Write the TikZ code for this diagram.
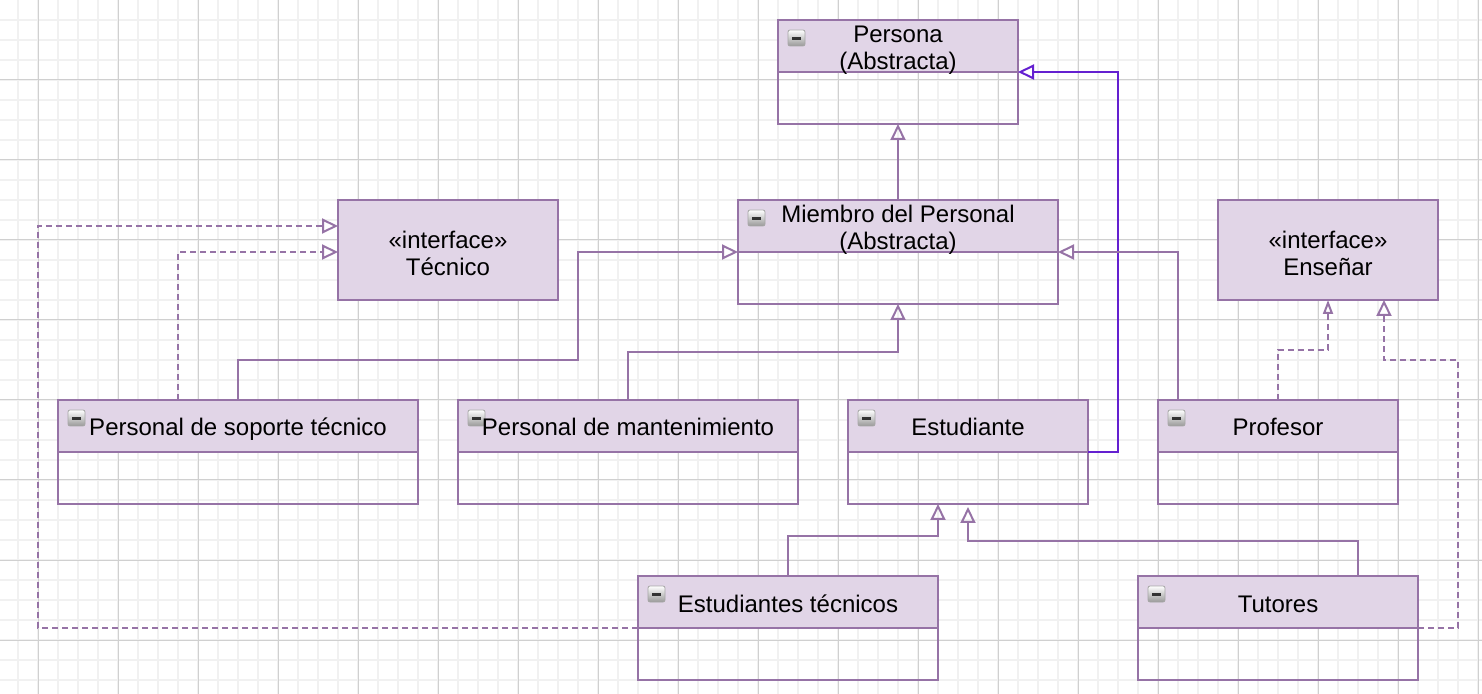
\documentclass[tikz,border=0pt]{standalone}
\usepackage{fontspec}
\setmainfont{Liberation Sans}
\usetikzlibrary{arrows.meta,calc}
\definecolor{boxfill}{HTML}{E1D5E7}
\definecolor{boxline}{HTML}{9673A6}
\definecolor{blueline}{HTML}{6420D0}
\definecolor{gridminor}{HTML}{F1F1F1}
\definecolor{gridmajor}{HTML}{D0D0D0}
\begin{document}
\begin{tikzpicture}[x=0.5pt,y=-0.5pt,
  font=\fontsize{12}{13.3}\selectfont,
  head/.style={draw=boxline, fill=boxfill, line width=1pt, minimum height=26pt, inner sep=0pt, outer sep=0pt},
  body/.style={draw=boxline, line width=1pt, minimum height=26pt, inner sep=0pt, outer sep=0pt},
  iface/.style={draw=boxline, fill=boxfill, line width=1pt, minimum width=110pt, minimum height=50pt, inner sep=0pt, outer sep=0pt},
  htext/.style={align=center, inner sep=0pt},
  stext/.style={inner sep=0pt, text height=8.8pt, text depth=0pt},
  gen/.style={draw=boxline, line width=1pt, -{Triangle[open,length=8pt,width=7.5pt]}},
  genblue/.style={draw=blueline, line width=1pt, -{Triangle[open,length=8pt,width=7.5pt]}},
  real/.style={draw=boxline, line width=1pt, dash pattern=on 3pt off 2pt, -{Triangle[open,length=8pt,width=7.5pt]}},
  realsmall/.style={draw=boxline, line width=1pt, dash pattern=on 3pt off 2pt, -{Triangle[open,length=7pt,width=5pt]}},
  minusicon/.pic={
    \shade[top color=white, bottom color=black!40, draw=black!35, line width=0.4pt, rounded corners=1pt] (0,0) rectangle (17,16);
    \fill[black!80] (4,7) rectangle (13,9.6);
  }
]
\useasboundingbox (0,0) rectangle (1482,694);
% grid
\foreach \x in {18,38,...,1478} \draw[gridminor, line width=1pt] (\x,0) -- (\x,694);
\foreach \y in {20,40,...,680} \draw[gridminor, line width=1pt] (0,\y) -- (1482,\y);
\foreach \x in {38,118,...,1478} \draw[gridmajor, line width=0.5pt] (\x,0) -- (\x,694);
\foreach \y in {0,80,...,640} \draw[gridmajor, line width=0.5pt] (0,\y) -- (1482,\y);

% classes
\node[head, minimum width=120pt] (persona) at (898,46) {};
\node[body, minimum width=120pt] (personaB) at (898,98) {};
\node[head, minimum width=160pt] (miembro) at (898,226) {};
\node[body, minimum width=160pt] (miembroB) at (898,278) {};
\node[iface] (tecnico) at (448,250) {};
\node[iface] (ensenar) at (1328,250) {};
\node[head, minimum width=180pt] (soporte) at (238,426) {};
\node[body, minimum width=180pt] (soporteB) at (238,478) {};
\node[head, minimum width=170pt] (manten) at (628,426) {};
\node[body, minimum width=170pt] (mantenB) at (628,478) {};
\node[head, minimum width=120pt] (estudiante) at (968,426) {};
\node[body, minimum width=120pt] (estudianteB) at (968,478) {};
\node[head, minimum width=120pt] (profesor) at (1278,426) {};
\node[body, minimum width=120pt] (profesorB) at (1278,478) {};
\node[head, minimum width=150pt] (esttec) at (788,602) {};
\node[body, minimum width=150pt] (esttecB) at (788,654) {};
\node[head, minimum width=140pt] (tutores) at (1278,602) {};
\node[body, minimum width=140pt] (tutoresB) at (1278,654) {};

% icons
\foreach \n in {persona,miembro,soporte,manten,estudiante,profesor,esttec,tutores}
  \pic at ([shift={(10,10)}]\n.north west) {minusicon};

% texts
\node[htext] (personaT) at ([yshift=-2pt]persona.center) {Persona\\(Abstracta)};
\node[htext] (miembroT) at ([yshift=-2pt]miembro.center) {Miembro del Personal\\(Abstracta)};
\node[htext] (tecnicoT) at ([yshift=-1.8pt]tecnico.center) {«interface»\\Técnico};
\node[htext] (ensenarT) at ([yshift=-1.8pt]ensenar.center) {«interface»\\Enseñar};
\node[stext] (soporteT) at ([yshift=-0.6pt]soporte.center) {Personal de soporte técnico};
\node[stext] (mantenT) at ([yshift=-0.6pt]manten.center) {Personal de mantenimiento};
\node[stext] (estudianteT) at ([yshift=-0.6pt]estudiante.center) {Estudiante};
\node[stext] (profesorT) at ([yshift=-0.6pt]profesor.center) {Profesor};
\node[stext] (esttecT) at ([yshift=-0.6pt]esttec.center) {Estudiantes técnicos};
\node[stext] (tutoresT) at ([yshift=-0.6pt]tutores.center) {Tutores};

% generalizations
\draw[gen] (miembro.north) -- (personaB.south);
\draw[genblue] (estudiante.south east) -- ++(30,0) |- (persona.south east);
\draw[gen] (soporte.north) |- (578,360) |- (miembro.south west);
\draw[gen] (manten.north) -- ++(0,-48) -| (miembroB.south);
\draw[gen] ([xshift=10pt]profesor.north west) |- (miembro.south east);
\draw[gen] (esttec.north) -- ++(0,-40) -| ([xshift=-15pt]estudianteB.south);
\draw[gen, shorten >=1.5pt] ([xshift=40pt]tutores.north) -- ++(0,-35) -| (estudianteB.south);

% realizations
\draw[real] ([xshift=-30pt]soporte.north) |- ([yshift=24pt]tecnico.south west);
\draw[real] (esttec.south west) -- ++(-600,0) |- ([yshift=-13pt]tecnico.north west);
\draw[realsmall] (profesor.north) -- ++(0,-50) -| (ensenar.south);
\draw[real] (tutores.south east) -- ++(40,0) -- ++(0,-268) -| ([xshift=28pt]ensenar.south);
\end{tikzpicture}
\end{document}
